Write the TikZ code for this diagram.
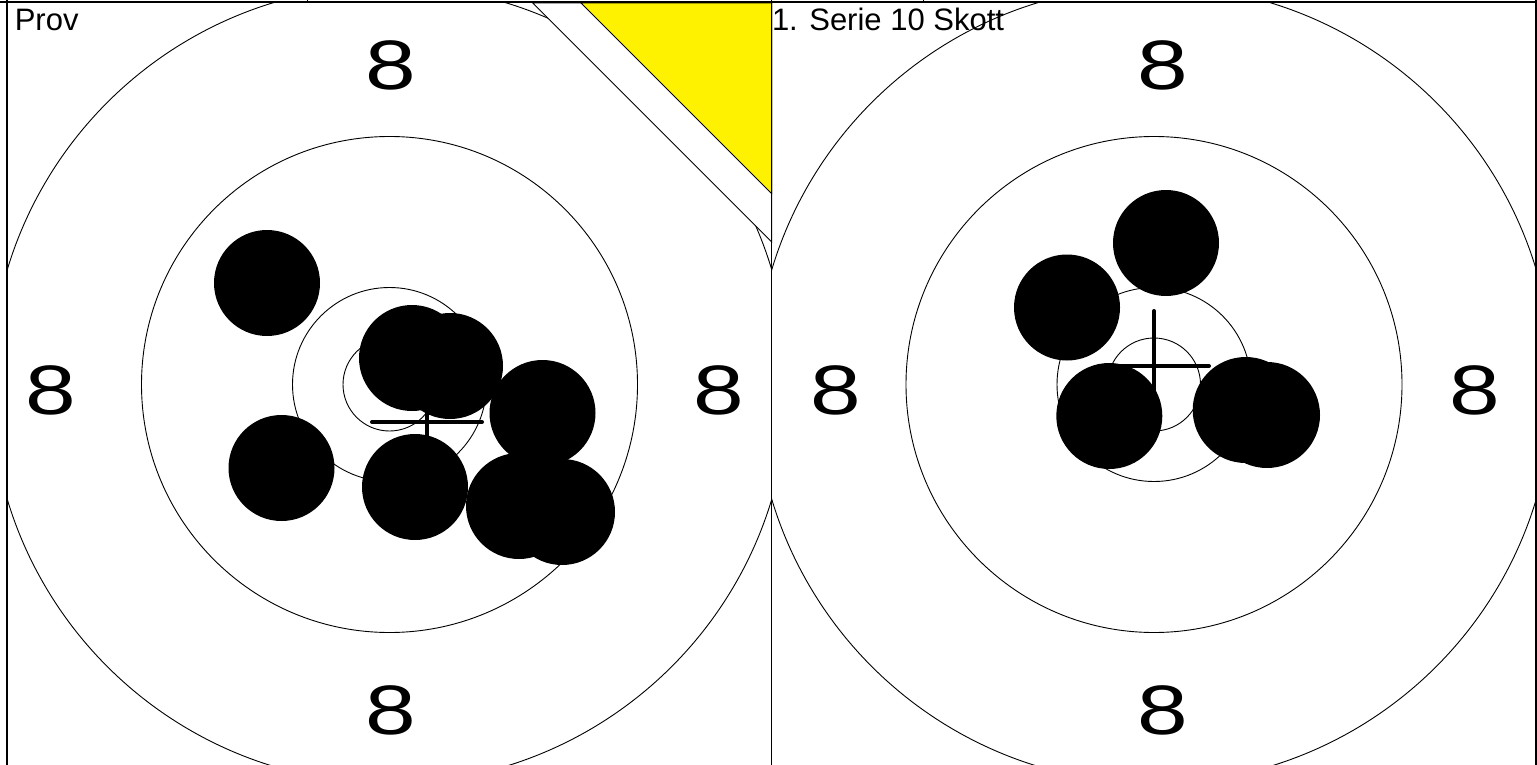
\documentclass[tikz,border=0pt]{standalone}
\usepackage{fontspec}
\setmainfont{Liberation Sans}
\begin{document}
\begin{tikzpicture}[x=1pt,y=-1pt,
  ring/.style={line width=0.9pt},
  shot/.style={fill=black},
  cross/.style={line width=4pt,line cap=round},
  frame/.style={line width=1.6pt},
  score/.style={inner sep=0pt,font=\fontsize{70}{70}\selectfont},
  title/.style={inner sep=0pt,anchor=base west,font=\fontsize{31}{31}\selectfont}]
\newcommand{\eight}{\scalebox{1.3}[1]{8}}
\useasboundingbox (0,0) rectangle (1537,765);
\fill[white] (0,0) rectangle (1537,765);
% left panel rings
\begin{scope}
  \clip (7,3) rectangle (771.5,765);
  \foreach \r in {46.5,97,248,399} \draw[ring] (389.5,384.5) circle[radius=\r];
\end{scope}
% right panel rings
\begin{scope}
  \clip (771.5,3) rectangle (1536,765);
  \foreach \r in {46.5,97,248,399} \draw[ring] (1154,384.5) circle[radius=\r];
\end{scope}
% scores
\node[score] (l8t) at (391,65) {\eight};
\node[score] (l8b) at (391,710) {\eight};
\node[score] (l8l) at (51,390) {\eight};
\node[score] (l8r) at (719,390) {\eight};
\node[score] (r8t) at (1163,65) {\eight};
\node[score] (r8b) at (1163,710) {\eight};
\node[score] (r8l) at (836,390) {\eight};
\node[score] (r8r) at (1475,390) {\eight};
% crosshairs
\draw[cross] (372,422) -- (482,422) (427,367) -- (427,477);
\draw[cross] (1099,366) -- (1209,366) (1154,311) -- (1154,421);
% shots left
\foreach \p in {(267,283),(412,358),(450,366),(542.5,413),(281.5,468),(415,487),(519,506),(562,512)}
  \fill[shot] \p circle[radius=53];
% shots right
\foreach \p in {(1166,243),(1067,307.5),(1109.3,416),(1245.7,410),(1267,415)}
  \fill[shot] \p circle[radius=53];
% corner marker
\filldraw[fill=white,draw=black,line width=1pt] (532.7,3) -- (771.5,241.8) -- (771.5,3) -- cycle;
\filldraw[fill=yellow,draw=black,line width=1pt] (581,3) -- (771.5,193.5) -- (771.5,3) -- cycle;
% frame
\draw[frame] (0,2) -- (1537,2);
\draw[frame] (7,0) -- (7,765);
\draw[frame] (771.5,0) -- (771.5,765);
\draw[frame] (1536,0) -- (1536,765);
\draw[line width=1pt] (307,0) -- (307,2) (923,0) -- (923,2);
% titles
\node[title] (prov) at (14.6,30.7) {Prov};
\node[title] (serie) at (771.8,31) {1. Serie 10 Skott};
\end{tikzpicture}
\end{document}
